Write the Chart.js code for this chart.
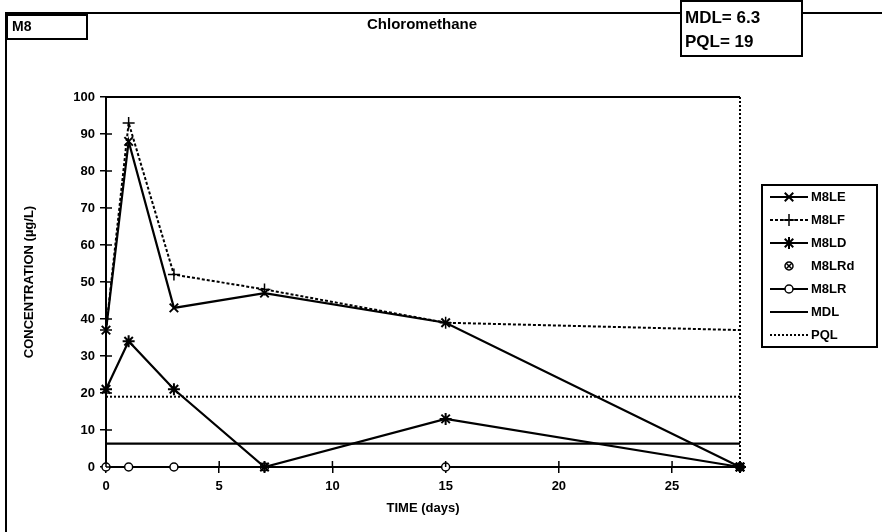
<!DOCTYPE html>
<html>
<head>
<meta charset="utf-8">
<script src="https://cdn.jsdelivr.net/npm/chart.js@4/dist/chart.umd.min.js"></script>
<style>
  html, body { margin: 0; padding: 0; background: #fff; }
  #wrap { position: relative; width: 882px; height: 532px; }
</style>
</head>
<body>
<div id="wrap"><canvas id="c" width="882" height="532"></canvas></div>
<script>
// Sampling days and measured concentrations (µg/L)
const days  = [0, 1, 3, 7, 15, 28];
const m8le  = [37, 88, 43, 47, 39, 0];
const m8lf  = [37, 93, 52, 48, 39, 37];
const m8ld  = [21, 34, 21, 0, 13, 0];
const m8lrd = [null, null, null, null, null, 0];
const m8lr  = [0, 0, 0, 0, 0, 0];
// Detection / quantitation limits
const mdl = 6.3;
const pql = 19;
const limitSpan = [0, 28];
const xTicks = [0, 5, 10, 15, 20, 25];
const yTicks = [0, 10, 20, 30, 40, 50, 60, 70, 80, 90, 100];

const FONT = "'Liberation Sans', Arial, sans-serif";
const pts = (xs, ys) => xs.map((x, i) => ({ x: x, y: ys[i] })).filter(p => p.y !== null);

// Circle with a cross inside, used for the duplicate-sample marker
function crossCircle(r) {
  const c = document.createElement('canvas');
  const s = r * 2 + 4;
  c.width = s; c.height = s;
  const g = c.getContext('2d');
  g.strokeStyle = '#000'; g.lineWidth = 1.5;
  g.beginPath(); g.arc(s / 2, s / 2, r, 0, Math.PI * 2); g.stroke();
  g.beginPath();
  g.moveTo(s / 2 - r * 0.7, s / 2 - r * 0.7); g.lineTo(s / 2 + r * 0.7, s / 2 + r * 0.7);
  g.moveTo(s / 2 + r * 0.7, s / 2 - r * 0.7); g.lineTo(s / 2 - r * 0.7, s / 2 + r * 0.7);
  g.stroke();
  return c;
}
const rdMarker = crossCircle(4);

const datasets = [
  { label: 'M8LE', data: pts(days, m8le), borderColor: '#000', backgroundColor: '#000', borderWidth: 2.2,
    pointStyle: 'crossRot', pointRadius: 6, pointBorderWidth: 2 },
  { label: 'M8LF', data: pts(days, m8lf), borderColor: '#000', backgroundColor: '#000', borderWidth: 2,
    borderDash: [3, 2], pointStyle: 'cross', pointRadius: ctx => (ctx.dataIndex === days.length - 1 ? 0 : 6),
    legendRadius: 6, pointBorderWidth: 1.5 },
  { label: 'M8LD', data: pts(days, m8ld), borderColor: '#000', backgroundColor: '#000', borderWidth: 2.2,
    pointStyle: 'star', pointRadius: 6, pointBorderWidth: 2 },
  { label: 'M8LRd', data: pts(days, m8lrd), borderColor: '#000', backgroundColor: '#fff', showLine: false,
    pointStyle: rdMarker, pointRadius: 5 },
  { label: 'M8LR', data: pts(days, m8lr), borderColor: '#000', backgroundColor: '#fff', borderWidth: 2,
    pointStyle: 'circle', pointRadius: 4, pointBorderWidth: 1.5 },
  { label: 'MDL', data: pts(limitSpan, [mdl, mdl]), borderColor: '#000', borderWidth: 2.2, pointRadius: 0 },
  { label: 'PQL', data: pts(limitSpan, [pql, pql]), borderColor: '#000', borderWidth: 2,
    borderDash: [2, 2], pointRadius: 0 }
];
datasets.forEach(ds => { ds.clip = false; });

// Frame, header boxes, title, plot border and legend
const decor = {
  id: 'decor',
  beforeDraw(chart) {
    const ctx = chart.ctx;
    ctx.save();
    ctx.fillStyle = '#fff';
    ctx.fillRect(0, 0, chart.width, chart.height);
    ctx.restore();
  },
  afterDraw(chart) {
    const ctx = chart.ctx;
    const a = chart.chartArea;
    const xs = chart.scales.x, ys = chart.scales.y;
    ctx.save();
    ctx.strokeStyle = '#000';
    ctx.fillStyle = '#000';

    // outer frame
    ctx.lineWidth = 2;
    ctx.beginPath();
    ctx.moveTo(6, 532); ctx.lineTo(6, 13); ctx.lineTo(882, 13);
    ctx.stroke();

    // station box
    ctx.fillStyle = '#fff';
    ctx.fillRect(7, 15, 80, 24);
    ctx.strokeRect(7, 15, 80, 24);
    ctx.fillStyle = '#000';
    ctx.font = 'bold 14px ' + FONT;
    ctx.textBaseline = 'middle';
    ctx.textAlign = 'left';
    ctx.fillText('M8', 12, 27);

    // title
    ctx.font = 'bold 15px ' + FONT;
    ctx.textAlign = 'center';
    ctx.fillText('Chloromethane', 422, 25);

    // limits box
    ctx.fillStyle = '#fff';
    ctx.fillRect(681, 1, 121, 55);
    ctx.strokeRect(681, 1, 121, 55);
    ctx.fillStyle = '#000';
    ctx.font = 'bold 17px ' + FONT;
    ctx.textAlign = 'left';
    ctx.fillText('MDL= ' + mdl, 685, 18);
    ctx.fillText('PQL= ' + pql, 685, 42);

    // plot border: top solid, right dotted
    ctx.lineWidth = 2;
    ctx.beginPath(); ctx.moveTo(a.left, a.top); ctx.lineTo(a.right, a.top); ctx.stroke();
    ctx.setLineDash([2, 2]);
    ctx.beginPath(); ctx.moveTo(a.right, a.top); ctx.lineTo(a.right, a.bottom); ctx.stroke();
    ctx.setLineDash([]);

    // inner halves of the tick marks
    ctx.lineWidth = 1.5;
    ctx.beginPath();
    yTicks.forEach(v => { const y = ys.getPixelForValue(v); ctx.moveTo(a.left, y); ctx.lineTo(a.left + 6, y); });
    xTicks.forEach(v => { const x = xs.getPixelForValue(v); ctx.moveTo(x, a.bottom); ctx.lineTo(x, a.bottom - 6); });
    ctx.stroke();

    // legend
    const L = { x: 762, y: 185, w: 115, h: 162, row: 23 };
    ctx.lineWidth = 2;
    ctx.fillStyle = '#fff';
    ctx.fillRect(L.x, L.y, L.w, L.h);
    ctx.strokeRect(L.x, L.y, L.w, L.h);
    chart.data.datasets.forEach((ds, i) => {
      const y = L.y + 12 + i * L.row;
      const x0 = L.x + 8, x1 = L.x + 46, xm = (x0 + x1) / 2;
      const r = ds.legendRadius || (typeof ds.pointRadius === 'number' ? ds.pointRadius : 0);
      ctx.strokeStyle = '#000';
      if (ds.showLine !== false) {
        ctx.lineWidth = ds.borderWidth || 2;
        ctx.setLineDash(ds.borderDash || []);
        ctx.beginPath(); ctx.moveTo(x0, y); ctx.lineTo(x1, y); ctx.stroke();
        ctx.setLineDash([]);
      }
      if (r) {
        ctx.fillStyle = ds.backgroundColor || '#000';
        ctx.lineWidth = ds.pointBorderWidth || 1.5;
        Chart.helpers.drawPoint(ctx, { pointStyle: ds.pointStyle, radius: r, rotation: 0,
          borderWidth: ds.pointBorderWidth || 1.5 }, xm, y);
      }
      ctx.fillStyle = '#000';
      ctx.font = 'bold 13px ' + FONT;
      ctx.textAlign = 'left';
      ctx.textBaseline = 'middle';
      ctx.fillText(ds.label, x1 + 3, y);
    });
    ctx.restore();
  }
};

new Chart(document.getElementById('c'), {
  type: 'line',
  data: { datasets: datasets },
  options: {
    responsive: false,
    animation: false,
    devicePixelRatio: 1,
    layout: { padding: { left: 0, right: 142, top: 97, bottom: 0 } },
    plugins: { legend: { display: false }, title: { display: false }, tooltip: { enabled: false } },
    elements: { line: { tension: 0 } },
    scales: {
      x: {
        type: 'linear', min: 0, max: 28,
        afterFit: s => { s.height = 65; },
        afterBuildTicks: s => { s.ticks = xTicks.map(v => ({ value: v })); },
        ticks: { color: '#000', font: { family: FONT, weight: 'bold', size: 13 }, padding: 6 },
        grid: { drawOnChartArea: false, color: '#000', tickLength: 6, lineWidth: 1.5 },
        border: { color: '#000', width: 2 },
        title: { display: true, text: 'TIME (days)', color: '#000',
          font: { family: FONT, weight: 'bold', size: 13 }, padding: { top: 0, bottom: 16 } }
      },
      y: {
        min: 0, max: 100,
        afterFit: s => { s.width = 106; },
        afterBuildTicks: s => { s.ticks = yTicks.map(v => ({ value: v })); },
        ticks: { color: '#000', font: { family: FONT, weight: 'bold', size: 13 }, padding: 5 },
        grid: { drawOnChartArea: false, color: '#000', tickLength: 6, lineWidth: 1.5 },
        border: { color: '#000', width: 2 },
        title: { display: true, text: 'CONCENTRATION (µg/L)', color: '#000',
          font: { family: FONT, weight: 'bold', size: 13 }, padding: { top: 22, bottom: 0 } }
      }
    }
  },
  plugins: [decor]
});
</script>
</body>
</html>
